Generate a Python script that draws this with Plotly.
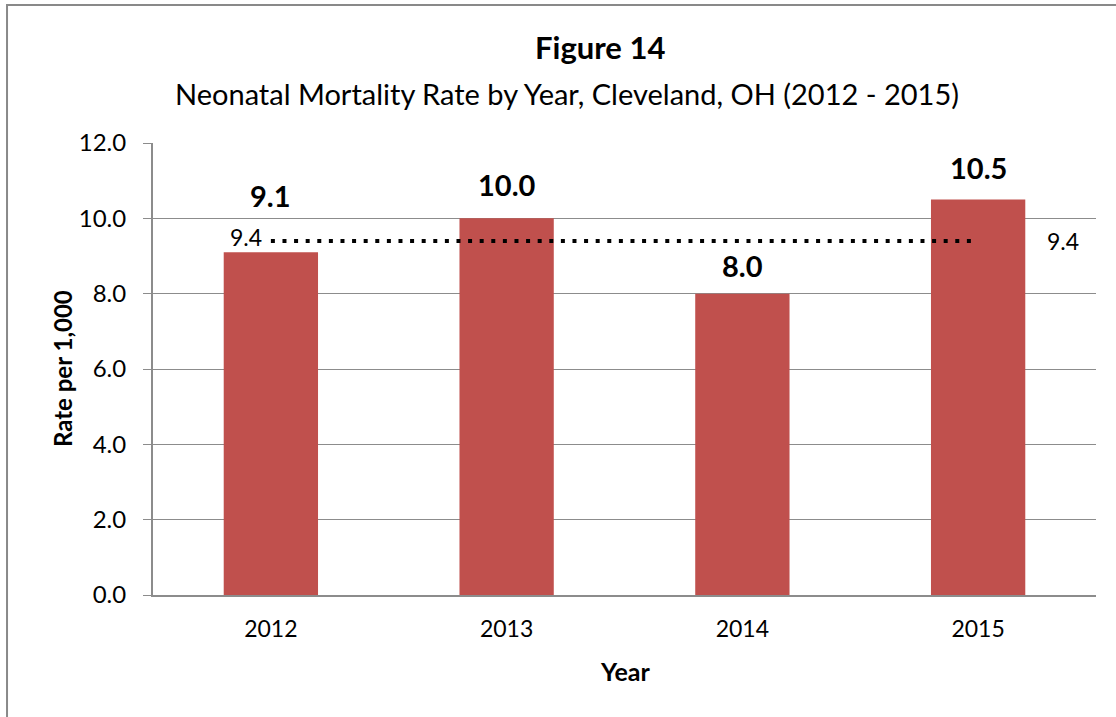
import plotly.graph_objects as go

# Neonatal mortality rate per 1,000 live births, Cleveland, OH
years = ["2012", "2013", "2014", "2015"]
rates = [9.1, 10.0, 8.0, 10.5]
# Four-year average shown as a reference line
average_rate = 9.4
average_line = [average_rate] * len(years)

y_ticks = [0, 2, 4, 6, 8, 10, 12]
y_tick_labels = ["0.0", "2.0", "4.0", "6.0", "8.0", "10.0", "12.0"]

FONT = "Lato, 'Noto Sans', sans-serif"
BAR_COLOR = "#C0504D"
GRID = "#8C8C8C"

# Pixel lift of each value label's centre above its bar top
LABEL_LIFT = [57, 34, 28, 32]

fig = go.Figure()

fig.add_trace(go.Bar(
    x=years, y=rates,
    marker=dict(color=BAR_COLOR, line=dict(width=0)),
    hoverinfo="x+y",
))

fig.add_trace(go.Scatter(
    x=years, y=average_line, mode="lines",
    line=dict(color="black", width=4, dash="4px,7.6px"),
    hoverinfo="y",
))

annotations = []
# Bold value labels above each bar (category index used as x position)
for i, v in enumerate(rates):
    annotations.append(dict(
        x=i, y=v, xref="x", yref="y", text=f"<b>{v:.1f}</b>",
        showarrow=False, yanchor="middle", yshift=LABEL_LIFT[i],
        font=dict(family=FONT, size=29, color="black"),
    ))
# Average labels at both ends of the dotted line
annotations.append(dict(
    x=0, y=average_rate, xref="x", yref="y", text=f"{average_rate:.1f}",
    showarrow=False, xanchor="right", yanchor="middle", xshift=-7, yshift=4,
    font=dict(family=FONT, size=23, color="black"),
))
annotations.append(dict(
    x=len(years) - 1, y=average_rate, xref="x", yref="y", text=f"{average_rate:.1f}",
    showarrow=False, xanchor="center", yanchor="middle", xshift=85, yshift=0,
    font=dict(family=FONT, size=23, color="black"),
))
# Titles
annotations.append(dict(
    x=0.474, y=1.2124, xref="paper", yref="paper", text="<b>Figure 14</b>",
    showarrow=False, xanchor="center", yanchor="middle",
    font=dict(family=FONT, size=31, color="black"),
))
annotations.append(dict(
    x=0.439, y=1.1106, xref="paper", yref="paper",
    text="Neonatal Mortality Rate by Year, Cleveland, OH (2012 - 2015)",
    showarrow=False, xanchor="center", yanchor="middle",
    font=dict(family=FONT, size=29, color="black"),
))
# Axis titles
annotations.append(dict(
    x=0.5, y=-0.168, xref="paper", yref="paper", text="<b>Year</b>",
    showarrow=False, xanchor="center", yanchor="middle",
    font=dict(family=FONT, size=25, color="black"),
))
annotations.append(dict(
    x=-0.0965, y=0.5, xref="paper", yref="paper", text="<b>Rate per 1,000</b>",
    showarrow=False, xanchor="center", yanchor="middle", textangle=-90,
    font=dict(family=FONT, size=24, color="black"),
))

fig.update_layout(
    width=1116, height=717,
    margin=dict(l=153, r=20, t=143, b=122),
    paper_bgcolor="white", plot_bgcolor="white",
    showlegend=False,
    bargap=0.6,
    font=dict(family=FONT, size=22, color="black"),
    annotations=annotations,
    shapes=[dict(
        type="rect", xref="paper", yref="paper",
        x0=-0.1548, x1=1.2, y0=-0.6, y1=1.3053,
        line=dict(color="#898989", width=2), fillcolor="rgba(0,0,0,0)",
        layer="below",
    )],
    xaxis=dict(
        type="category", range=[-0.5, len(years) - 0.5],
        showgrid=False, zeroline=False,
        showline=True, linecolor=GRID, linewidth=2,
        ticks="", tickfont=dict(family=FONT, size=23, color="black"),
        ticklabelstandoff=12,
    ),
    yaxis=dict(
        range=[0, 12], tickvals=y_ticks, ticktext=y_tick_labels,
        showgrid=True, gridcolor=GRID, gridwidth=1, zeroline=False,
        showline=True, linecolor=GRID, linewidth=2,
        ticks="outside", ticklen=8, tickcolor=GRID, tickwidth=1,
        tickfont=dict(family=FONT, size=24, color="black"),
        ticklabelstandoff=12,
    ),
)

fig.write_html("out.html")
